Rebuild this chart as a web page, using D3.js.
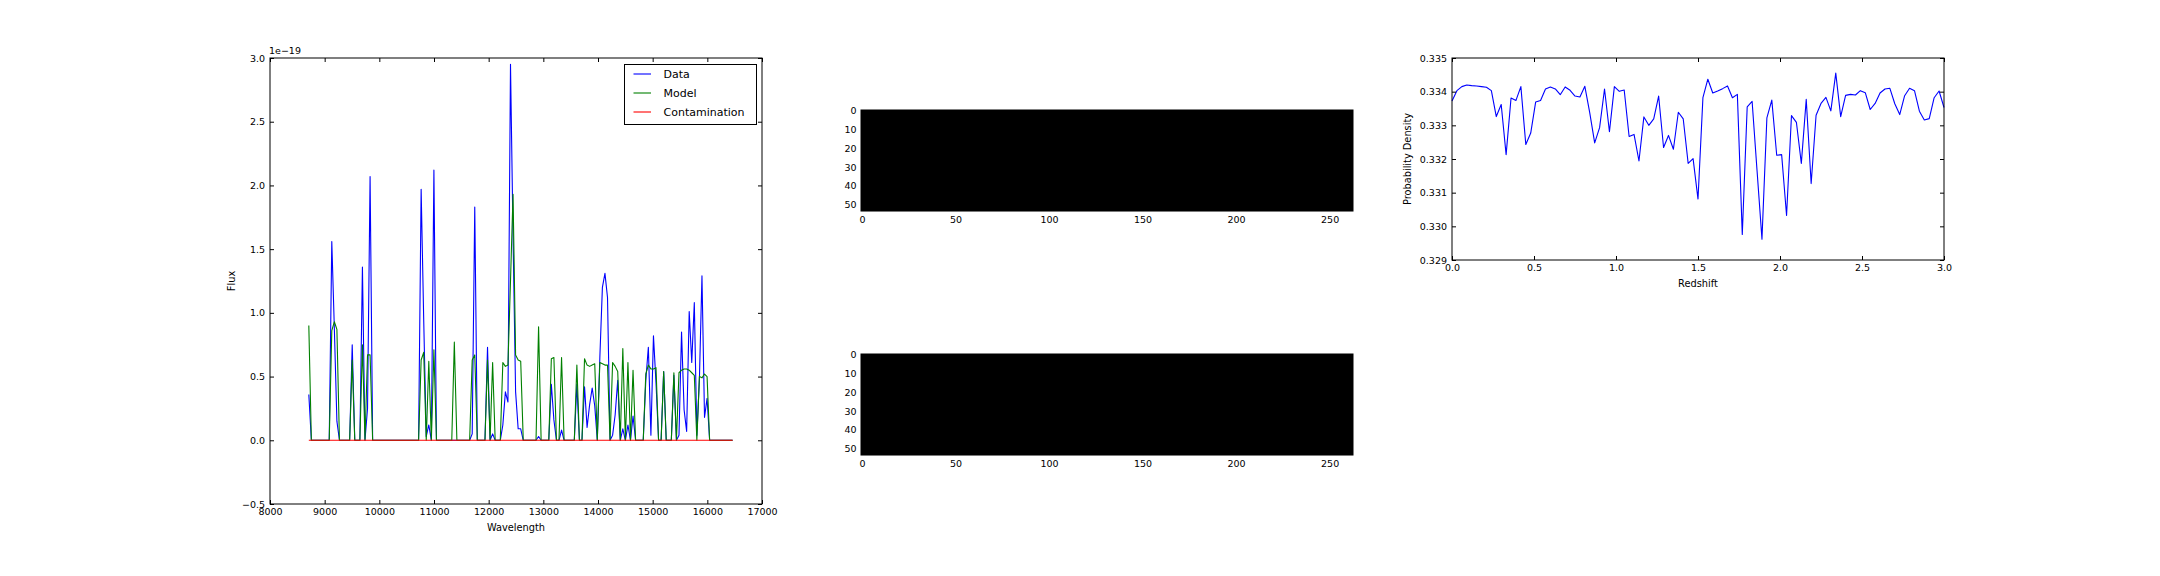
<!DOCTYPE html>
<html><head><meta charset="utf-8">
<script src="https://cdn.jsdelivr.net/npm/d3@7"></script>
<style>
body{margin:0;background:#fff;}
svg text{font-family:"DejaVu Sans",sans-serif;fill:#000;}
</style></head><body>
<svg id="c" width="2160" height="576"></svg>
<script>
// ---------------- DATA ----------------
const wavelength = [8710,8756.7,8803.4,8850.1,8896.8,8943.5,8990.2,9036.9,9083.6,9130.3,
9177,9223.7,9270.4,9317.1,9363.8,9410.5,9457.2,9503.9,9550.6,9597.3,
9644,9690.7,9737.4,9784.1,9830.8,9877.5,9924.2,9970.9,10017.6,10064.3,
10111,10157.7,10204.4,10251.1,10297.8,10344.5,10391.2,10437.9,10484.6,10531.3,
10578,10624.7,10671.4,10718.1,10764.8,10811.5,10858.2,10904.9,10951.6,10998.3,
11045,11091.7,11138.4,11185.1,11231.8,11278.5,11325.2,11371.9,11418.6,11465.3,
11512,11558.7,11605.4,11652.1,11698.8,11745.5,11792.2,11838.9,11885.6,11932.3,
11979,12025.7,12072.4,12119.1,12165.8,12212.5,12259.2,12305.9,12352.6,12399.3,
12446,12492.7,12539.4,12586.1,12632.8,12679.5,12726.2,12772.9,12819.6,12866.3,
12913,12959.7,13006.4,13053.1,13099.8,13146.5,13193.2,13239.9,13286.6,13333.3,
13380,13426.7,13473.4,13520.1,13566.8,13613.5,13660.2,13706.9,13753.6,13800.3,
13847,13893.7,13940.4,13987.1,14033.8,14080.5,14127.2,14173.9,14220.6,14267.3,
14314,14360.7,14407.4,14454.1,14500.8,14547.5,14594.2,14640.9,14687.6,14734.3,
14781,14827.7,14874.4,14921.1,14967.8,15014.5,15061.2,15107.9,15154.6,15201.3,
15248,15294.7,15341.4,15388.1,15434.8,15481.5,15528.2,15574.9,15621.6,15668.3,
15715,15761.7,15808.4,15855.1,15901.8,15948.5,15995.2,16041.9,16088.6,16135.3,
16182,16228.7,16275.4,16322.1,16368.8,16415.5,16462.2];

const dataFlux = [0.36,0,0,0,0,0,0,0,0,1.56,
0.88,0.15,0,0,0,0,0,0.75,0,0,
0,1.36,0,0.25,2.07,0,0,0,0,0,
0,0,0,0,0,0,0,0,0,0,
0,0,0,0,1.97,0.95,0.03,0.12,0,2.12,
0,0,0,0,0,0,0,0,0,0,
0,0,0,0,0.05,1.83,0,0,0,0,
0.73,0,0.05,0,0,0,0.12,0.38,0.30,2.95,
1.6,0.38,0.09,0.09,0,0,0,0,0,0,
0.03,0,0,0,0,0.44,0.16,0,0,0.08,
0,0,0,0,0,0.44,0,0,0.42,0.10,
0.28,0.41,0.27,0,0.65,1.2,1.31,1.12,0,0.04,
0.2,0.47,0,0.09,0,0.12,0,0.19,0,0,
0,0,0.47,0.73,0.04,0.82,0.45,0,0,0.54,
0,0,0,0.51,0,0.04,0.85,0.24,0.07,1.01,
0.61,1.08,0.04,0.48,1.29,0.18,0.33,0,0,0,
0,0,0,0,0,0,0];

const modelFlux = [0.90,0,0,0,0,0,0,0,0,0.86,
0.93,0.87,0,0,0,0,0,0.63,0,0,
0,0.75,0,0.67,0.67,0,0,0,0,0,
0,0,0,0,0,0,0,0,0,0,
0,0,0,0,0.63,0.69,0,0.62,0,0.71,
0,0,0,0,0,0,0,0.77,0,0,
0,0,0,0,0.63,0.67,0,0,0,0,
0.63,0,0.61,0,0,0,0.61,0.58,0.59,1.25,
1.93,0.67,0.63,0.62,0,0,0,0,0,0,
0.89,0,0,0,0,0.64,0.65,0,0,0.65,
0,0,0,0,0,0.59,0,0,0.64,0.59,
0.58,0.59,0.60,0,0.61,0.60,0.59,0.59,0,0.61,
0.58,0.54,0,0.72,0,0.61,0,0.55,0,0,
0,0,0.52,0.59,0.56,0.56,0.57,0,0,0.54,
0,0,0,0.53,0,0.53,0.55,0.56,0.56,0.55,
0.53,0.51,0,0.50,0.49,0.52,0.50,0,0,0,
0,0,0,0,0,0,0];

const contamFlux = [0,0,0,0,0,0,0,0,0,0,
0,0,0,0,0,0,0,0,0,0,
0,0,0,0,0,0,0,0,0,0,
0,0,0,0,0,0,0,0,0,0,
0,0,0,0,0,0,0,0,0,0,
0,0,0,0,0,0,0,0,0,0,
0,0,0,0,0,0,0,0,0,0,
0,0,0,0,0,0,0,0,0,0,
0,0,0,0,0,0,0,0,0,0,
0,0,0,0,0,0,0,0,0,0,
0,0,0,0,0,0,0,0,0,0,
0,0,0,0,0,0,0,0,0,0,
0,0,0,0,0,0,0,0,0,0,
0,0,0,0,0,0,0,0,0,0,
0,0,0,0,0,0,0,0,0,0,
0,0,0,0,0,0,0,0,0,0,
0,0,0,0,0,0,0];

const seriesNames = ["Data", "Model", "Contamination"];

const redshift = [0,0.03,0.06,0.09,0.12,0.15,0.18,0.21,0.24,0.27,
0.3,0.33,0.36,0.39,0.42,0.45,0.48,0.51,0.54,0.57,
0.6,0.63,0.66,0.69,0.72,0.75,0.78,0.81,0.84,0.87,
0.9,0.93,0.96,0.99,1.02,1.05,1.08,1.11,1.14,1.17,
1.2,1.23,1.26,1.29,1.32,1.35,1.38,1.41,1.44,1.47,
1.5,1.53,1.56,1.59,1.62,1.65,1.68,1.71,1.74,1.77,
1.8,1.83,1.86,1.89,1.92,1.95,1.98,2.01,2.04,2.07,
2.1,2.13,2.16,2.19,2.22,2.25,2.28,2.31,2.34,2.37,
2.4,2.43,2.46,2.49,2.52,2.55,2.58,2.61,2.64,2.67,
2.7,2.73,2.76,2.79,2.82,2.85,2.88,2.91,2.94,2.97,3.0];

const probDensity = [0.33372,0.33403,0.33415,0.33420,0.33418,0.33417,0.33415,0.33413,0.33403,0.33326,
0.33362,0.33213,0.33381,0.33374,0.33415,0.33243,0.33277,0.33369,0.33374,0.33408,
0.33414,0.33408,0.33391,0.33414,0.33404,0.33387,0.33384,0.33416,0.33337,0.33248,
0.33293,0.33408,0.33281,0.33415,0.33401,0.33405,0.33267,0.33273,0.33194,0.33325,
0.33300,0.33319,0.33387,0.33234,0.33270,0.33229,0.33339,0.33319,0.33187,0.33201,
0.33081,0.33382,0.33437,0.33396,0.33402,0.33409,0.33417,0.33382,0.33392,0.32976,
0.33355,0.33371,0.33166,0.32962,0.33322,0.33375,0.33211,0.33213,0.33032,0.33329,
0.33309,0.33187,0.33377,0.33127,0.33330,0.33365,0.33383,0.33343,0.33455,0.33326,
0.33389,0.33392,0.33390,0.33403,0.33397,0.33347,0.33365,0.33396,0.33408,0.33410,
0.33364,0.33332,0.33388,0.33410,0.33403,0.33342,0.33316,0.33320,0.33382,0.33402,
0.33353];

// image panels: 2D arrays (all zero -> black), rows x cols
const imageShape = [54, 263];
const imageValue = 0;

// tick labels
const specXTicks = [8000,9000,10000,11000,12000,13000,14000,15000,16000,17000];
const specYTicks = [-0.5,0,0.5,1.0,1.5,2.0,2.5,3.0];
const imgXTicks = [0,50,100,150,200,250];
const imgYTicks = [0,10,20,30,40,50];
const zXTicks = [0,0.5,1.0,1.5,2.0,2.5,3.0];
const zYTicks = [0.329,0.330,0.331,0.332,0.333,0.334,0.335];

// ---------------- DRAW ----------------
const svg = d3.select("#c");
const TICK_FS = 9.5, LABEL_FS = 9.8, LEG_FS = 11;
const COLORS = ["#0000ff", "#008000", "#ff0000"];

function styleAxis(g, fs) {
  g.attr("font-family", null).attr("font-size", null);
  g.select(".domain").remove();
  g.selectAll(".tick line").attr("stroke", "#000").attr("stroke-width", 1);
  g.selectAll(".tick text").attr("font-size", fs).attr("fill", "#000");
}

function frameAxes(P, x, y, xt, yt, xfmt, yfmt, opts = {}) {
  const showTicks = opts.showTicks !== false;
  const tl = showTicks ? -4 : 0;
  const gb = svg.append("g").attr("transform", `translate(0,${P.b})`)
    .call(d3.axisBottom(x).tickValues(xt).tickFormat(xfmt).tickSizeInner(tl).tickSizeOuter(0).tickPadding(opts.xpad ?? 4.2));
  styleAxis(gb, TICK_FS);
  const gl = svg.append("g").attr("transform", `translate(${P.l},0)`)
    .call(d3.axisLeft(y).tickValues(yt).tickFormat(yfmt).tickSizeInner(tl).tickSizeOuter(0).tickPadding(opts.ypad ?? 5));
  styleAxis(gl, TICK_FS);
  if (showTicks) {
    const gt = svg.append("g").attr("transform", `translate(0,${P.t})`)
      .call(d3.axisTop(x).tickValues(xt).tickFormat("").tickSizeInner(-4).tickSizeOuter(0));
    styleAxis(gt, TICK_FS);
    const gr = svg.append("g").attr("transform", `translate(${P.r},0)`)
      .call(d3.axisRight(y).tickValues(yt).tickFormat("").tickSizeInner(-4).tickSizeOuter(0));
    styleAxis(gr, TICK_FS);
  }
  svg.append("rect").attr("x", P.l).attr("y", P.t).attr("width", P.r - P.l).attr("height", P.b - P.t)
    .attr("fill", "none").attr("stroke", "#000").attr("stroke-width", 1);
}

// ---- Panel 1: spectrum ----
const P1 = {l: 270, r: 762, t: 58, b: 504};
const x1 = d3.scaleLinear().domain([8000, 17000]).range([P1.l, P1.r]);
const y1 = d3.scaleLinear().domain([-0.5, 3.0]).range([P1.b, P1.t]);
svg.append("clipPath").attr("id", "clip1").append("rect")
  .attr("x", P1.l).attr("y", P1.t).attr("width", P1.r - P1.l).attr("height", P1.b - P1.t);
const specSeries = [dataFlux, modelFlux, contamFlux];
const line1 = d3.line().x((d, i) => x1(wavelength[i])).y(d => y1(d));
const gLines = svg.append("g").attr("clip-path", "url(#clip1)");
specSeries.forEach((s, k) => {
  gLines.append("path").datum(s).attr("d", line1).attr("fill", "none")
    .attr("stroke", COLORS[k]).attr("stroke-width", 1.1).attr("stroke-linejoin", "round");
});
frameAxes(P1, x1, y1, specXTicks, specYTicks, d3.format("d"), d3.format(".1f"));
svg.append("text").attr("x", P1.l - 1).attr("y", P1.t - 4).attr("font-size", TICK_FS).text("1e\u221219");
svg.append("text").attr("x", (P1.l + P1.r) / 2).attr("y", P1.b + 27).attr("text-anchor", "middle")
  .attr("font-size", LABEL_FS).text("Wavelength");
svg.append("text").attr("transform", `translate(${P1.l - 35},${(P1.t + P1.b) / 2}) rotate(-90)`)
  .attr("text-anchor", "middle").attr("font-size", LABEL_FS).text("Flux");

// legend
const L = {x: 624.5, y: 64.5, w: 132, h: 60};
const gLeg = svg.append("g");
gLeg.append("rect").attr("x", L.x).attr("y", L.y).attr("width", L.w).attr("height", L.h)
  .attr("fill", "#fff").attr("stroke", "#000").attr("stroke-width", 1);
seriesNames.forEach((n, k) => {
  const yy = L.y + 9.5 + k * 19;
  gLeg.append("line").attr("x1", L.x + 9).attr("x2", L.x + 26.5).attr("y1", yy).attr("y2", yy)
    .attr("stroke", COLORS[k]).attr("stroke-width", 1.1);
  gLeg.append("text").attr("x", L.x + 39).attr("y", yy).attr("dy", "0.36em")
    .attr("font-size", LEG_FS).text(n);
});

// ---- Image panels ----
function imagePanel(top) {
  const left = 861, width = 492;
  const height = width * imageShape[0] / imageShape[1];
  const P = {l: left, r: left + width, t: top, b: top + height};
  const xs = d3.scaleLinear().domain([-0.5, imageShape[1] - 0.5]).range([P.l, P.r]);
  const ys = d3.scaleLinear().domain([-0.5, imageShape[0] - 0.5]).range([P.t, P.b]);
  const gray = d3.scaleLinear().domain([0, 1]).range(["#000", "#fff"]);
  svg.append("rect").attr("x", xs(-0.5)).attr("y", ys(-0.5))
    .attr("width", xs(imageShape[1] - 0.5) - xs(-0.5)).attr("height", ys(imageShape[0] - 0.5) - ys(-0.5))
    .attr("fill", gray(imageValue));
  frameAxes(P, xs, ys, imgXTicks, imgYTicks, d3.format("d"), d3.format("d"), {xpad: 5, ypad: 4.5});
}
imagePanel(110);
imagePanel(354);

// ---- Panel 3: redshift PDF ----
const P3 = {l: 1452, r: 1944, t: 58, b: 260};
const x3 = d3.scaleLinear().domain([0, 3.0]).range([P3.l, P3.r]);
const y3 = d3.scaleLinear().domain([0.329, 0.335]).range([P3.b, P3.t]);
svg.append("path").datum(probDensity)
  .attr("d", d3.line().x((d, i) => x3(redshift[i])).y(d => y3(d)))
  .attr("fill", "none").attr("stroke", "#0000ff").attr("stroke-width", 1.1).attr("stroke-linejoin", "round");
frameAxes(P3, x3, y3, zXTicks, zYTicks, d3.format(".1f"), d3.format(".3f"));
svg.append("text").attr("x", (P3.l + P3.r) / 2).attr("y", P3.b + 27).attr("text-anchor", "middle")
  .attr("font-size", LABEL_FS).text("Redshift");
svg.append("text").attr("transform", `translate(${P3.l - 41},${(P3.t + P3.b) / 2}) rotate(-90)`)
  .attr("text-anchor", "middle").attr("font-size", LABEL_FS).text("Probability Density");
</script>
</body></html>
